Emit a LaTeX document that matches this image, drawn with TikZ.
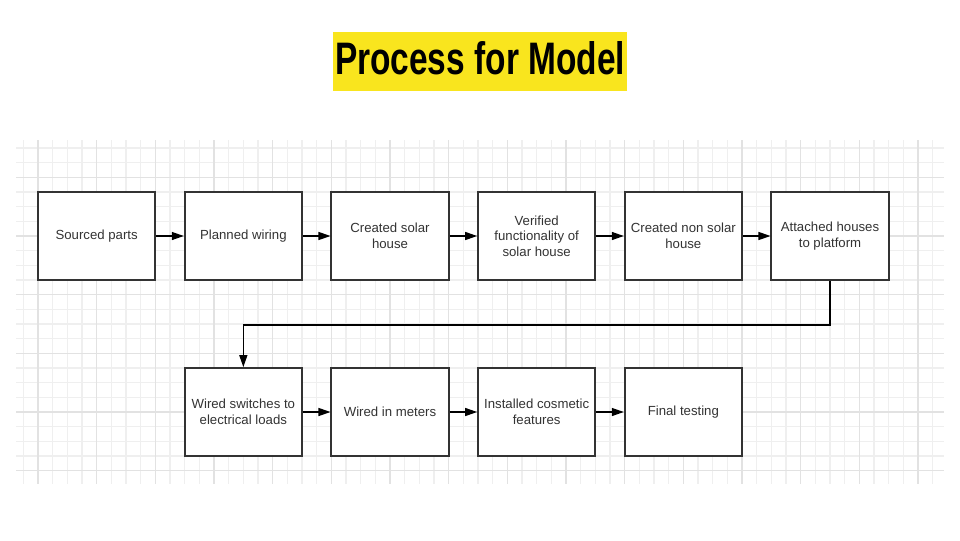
\documentclass[tikz,border=0pt]{standalone}
\usepackage{fontspec}
\setmainfont{Liberation Sans}
\usepackage{xcolor}
\usetikzlibrary{arrows.meta}

\definecolor{titleyellow}{HTML}{F9E51E}
\definecolor{boxtext}{HTML}{333333}
\definecolor{gridminor}{HTML}{EFEFEF}
\definecolor{gridmajor}{HTML}{E2E2E2}

\begin{document}
\begin{tikzpicture}[x=0.75pt, y=-0.75pt,
    stage/.style={draw=boxtext, line width=1.3pt, fill=white, minimum width=88pt, minimum height=66pt,
        align=center, text=boxtext, font=\fontsize{9.9}{11.6}\selectfont, inner sep=2pt},
    flow/.style={draw=black, line width=1pt, -{Triangle[length=9pt, width=6pt]}},
    minorline/.style={gridminor, line width=0.8pt},
    majorline/.style={gridmajor, line width=0.9pt}]
    \useasboundingbox (0, 0) rectangle (960, 540);

    % grid paper
    \foreach \i in {0,...,62}
        \draw [minorline] ({23.333+14.667*\i}, 140) -- ++(0, 344);
    \foreach \j in {0,...,22}
        \draw [minorline] (16, {148+14.667*\j}) -- ++(928, 0);
    \foreach \i in {0,...,15}
        \draw [majorline] ({38+58.667*\i}, 140) -- ++(0, 344);
    \foreach \j in {0,...,5}
        \draw [majorline] (16, {177.333+58.667*\j}) -- ++(928, 0);

    % title
    \node (title) at (480, 61.5) [fill=titleyellow, minimum width=220.5pt, minimum height=44.25pt,
        inner sep=0pt, text depth=6pt] {\resizebox{217.5pt}{24.75pt}{\bfseries Process for Model}};

    % first row
    \node (0) at (96.667, 236) [stage] {Sourced parts};
    \node (1) at (243.333, 236) [stage] {Planned wiring};
    \node (2) at (390, 236) [stage] {Created solar\\house};
    \node (3) at (536.667, 236) [stage] {Verified\\functionality of\\solar house};
    \node (4) at (683.333, 236) [stage] {Created non solar\\house};
    \node (5) at (830, 236) [stage] {Attached houses\\to platform};

    % second row
    \node (6) at (243.333, 412) [stage] {Wired switches to\\electrical loads};
    \node (7) at (390, 412) [stage] {Wired in meters};
    \node (8) at (536.667, 412) [stage] {Installed cosmetic\\features};
    \node (9) at (683.333, 412) [stage] {Final testing};

    \draw [flow] (0) -- (1);
    \draw [flow] (1) -- (2);
    \draw [flow] (2) -- (3);
    \draw [flow] (3) -- (4);
    \draw [flow] (4) -- (5);
    \draw [flow] (5.south) -- ++(0, 44) -| (6.north);
    \draw [flow] (6) -- (7);
    \draw [flow] (7) -- (8);
    \draw [flow] (8) -- (9);
\end{tikzpicture}
\end{document}
